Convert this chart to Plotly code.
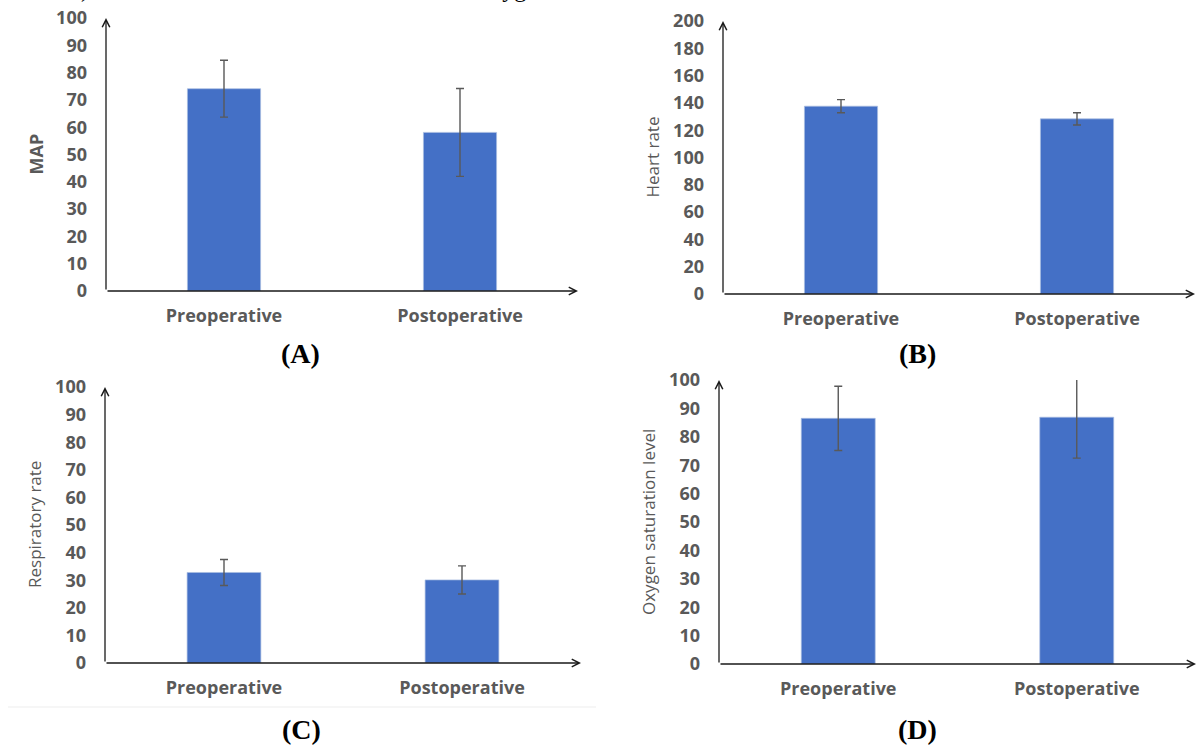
import plotly.graph_objects as go

# ---------------- data ----------------
categories = ["Preoperative", "Postoperative"]

map_mean = [74.1, 58.1]
map_sd = [10.4, 16.1]

hr_mean = [137.6, 128.3]
hr_sd = [4.8, 4.5]

rr_mean = [32.8, 30.1]
rr_sd = [4.7, 5.1]

spo2_mean = [86.5, 86.9]
spo2_sd = [11.3, 14.4]

y_titles = ["MAP", "Heart rate", "Respiratory rate", "Oxygen saturation level"]
panel_labels = ["(A)", "(B)", "(C)", "(D)"]
y_max = [100, 200, 100, 100]
y_step = [10, 20, 10, 10]

# ---------------- layout helpers ----------------
W, H = 1198, 747


def px(x):
    return x / W


def py(y):
    return 1 - y / H


# pixel boxes of the four panels: (axis x, axis end x, top y, bottom y)
boxes = [
    (106, 578, 18, 291),
    (723, 1195, 21, 294),
    (105, 581, 387, 663),
    (719, 1196, 380, 664),
]
label_pos = [(300, 353), (917, 353), (301, 729), (917, 729)]

BAR_COLOR = "#4470c6"
GREY = "#595959"

means = [map_mean, hr_mean, rr_mean, spo2_mean]
sds = [map_sd, hr_sd, rr_sd, spo2_sd]

fig = go.Figure()
annotations = []

for i in range(4):
    n = "" if i == 0 else str(i + 1)
    xa, ya = "x" + n, "y" + n
    x0, x1, yt, yb = boxes[i]
    fig.add_trace(
        go.Bar(
            x=categories,
            y=means[i],
            width=0.31,
            marker=dict(color=BAR_COLOR, line=dict(color="rgba(170,190,225,0.7)", width=1)),
            error_y=dict(type="data", array=sds[i], visible=True, color=GREY, thickness=1.4, width=4),
            xaxis=xa,
            yaxis=ya,
            showlegend=False,
            hoverinfo="x+y",
        )
    )
    fig.layout["xaxis" + n] = dict(
        domain=[px(x0), px(x1)],
        anchor=ya,
        range=[-0.5, 1.5],
        showline=False,
        showgrid=False,
        zeroline=False,
        ticks="",
        ticklabelstandoff=12,
        automargin=False,
        tickfont=dict(family="Open Sans", size=18, color=GREY, weight="bold"),
        fixedrange=True,
    )
    fig.layout["yaxis" + n] = dict(
        domain=[py(yb), py(yt)],
        anchor=xa,
        range=[0, y_max[i]],
        dtick=y_step[i],
        tick0=0,
        showline=False,
        showgrid=False,
        zeroline=False,
        ticks="",
        ticklabelstandoff=18,
        automargin=False,
        tickfont=dict(family="Open Sans", size=18, color=GREY, weight="bold"),
        fixedrange=True,
    )
    # axes drawn as arrows
    annotations.append(dict(
        xref=xa + " domain", yref=ya + " domain", axref=xa + " domain", ayref=ya + " domain",
        x=1, y=0, ax=0, ay=0, text="", showarrow=True,
        arrowhead=5, arrowsize=1.15, arrowwidth=1.3, arrowcolor="#1a1a1a",
    ))
    annotations.append(dict(
        xref=xa + " domain", yref=ya + " domain", axref=xa + " domain", ayref=ya + " domain",
        x=0, y=1, ax=0, ay=0, text="", showarrow=True,
        arrowhead=5, arrowsize=1.15, arrowwidth=1.3, arrowcolor="#1a1a1a",
    ))
    # y axis title
    annotations.append(dict(
        xref="paper", yref="paper", x=px(x0 - 71), y=py((yt + yb) / 2),
        text=y_titles[i], textangle=-90, showarrow=False,
        xanchor="center", yanchor="middle",
        font=dict(family="Open Sans", size=18 if i == 0 else 17, color=GREY,
                  weight="bold" if i == 0 else "normal"),
    ))
    # panel label
    lx, ly = label_pos[i]
    annotations.append(dict(
        xref="paper", yref="paper", x=px(lx), y=py(ly),
        text="<b>" + panel_labels[i] + "</b>", showarrow=False,
        xanchor="center", yanchor="middle",
        font=dict(family="Liberation Serif", size=28, color="black"),
    ))

# fragments of the caption cut off at the top edge (only descenders visible)
annotations.append(dict(
    xref="paper", yref="paper", x=px(511), y=py(4), text="Oxygen", showarrow=False,
    xanchor="center", yanchor="bottom",
    font=dict(family="Liberation Serif", size=24, color="black"),
))
annotations.append(dict(
    xref="paper", yref="paper", x=px(85), y=py(4), text=")", showarrow=False,
    xanchor="center", yanchor="bottom",
    font=dict(family="Liberation Serif", size=24, color="black"),
))

fig.update_layout(
    width=W,
    height=H,
    margin=dict(l=0, r=0, t=0, b=0, pad=0, autoexpand=False),
    paper_bgcolor="white",
    plot_bgcolor="white",
    showlegend=False,
    annotations=annotations,
    shapes=[dict(type="line", xref="paper", yref="paper",
                 x0=px(8), x1=px(596), y0=py(707), y1=py(707),
                 line=dict(color="#ededed", width=1))],
    bargap=0.2,
)

fig.write_html(
    "out.html",
    config={"displayModeBar": False},
    post_script="document.body.style.margin='0';document.body.style.overflow='hidden';",
)
